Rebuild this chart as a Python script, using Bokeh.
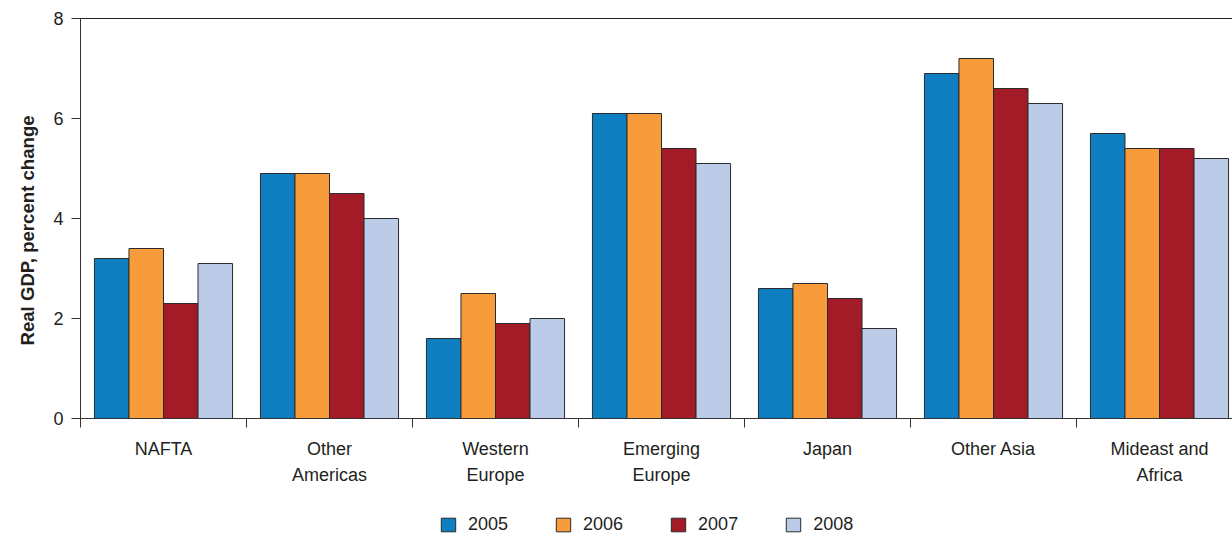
import numpy as np
from bokeh.plotting import figure
from bokeh.layouts import column
from bokeh.models import (Range1d, FixedTicker, LinearAxis, Legend, LegendItem,
                          ColumnDataSource, Title)
from bokeh.embed import file_html
from bokeh.resources import INLINE

# Real GDP growth by region, percent change
regions = ["NAFTA", "Other\nAmericas", "Western\nEurope", "Emerging\nEurope",
           "Japan", "Other Asia", "Mideast and\nAfrica"]
years = ["2005", "2006", "2007", "2008"]
gdp_2005 = [3.2, 4.9, 1.6, 6.1, 2.6, 6.9, 5.7]
gdp_2006 = [3.4, 4.9, 2.5, 6.1, 2.7, 7.2, 5.4]
gdp_2007 = [2.3, 4.5, 1.9, 5.4, 2.4, 6.6, 5.4]
gdp_2008 = [3.1, 4.0, 2.0, 5.1, 1.8, 6.3, 5.2]
y_ticks = [0, 2, 4, 6, 8]

series = [gdp_2005, gdp_2006, gdp_2007, gdp_2008]
colors = ["#0f7ec0", "#f89b3a", "#a31b26", "#bccbe8"]
EDGE = "#2b2b2b"

FONT = "Liberation Sans"
TEXT = "#231f20"
FS = "18px"

n = len(regions)
group_px = 166.0
frame_w = 1232 - 80
bar_w = 0.208
offsets = [-1.5 * bar_w, -0.5 * bar_w, 0.5 * bar_w, 1.5 * bar_w]

p = figure(width=1232, height=500, output_backend="svg", toolbar_location=None,
           x_range=Range1d(0, frame_w / group_px), y_range=Range1d(0, 8),
           min_border_left=80, min_border_right=0, min_border_top=18,
           min_border_bottom=82, outline_line_color=None,
           background_fill_color="white", border_fill_color="white")
p.xgrid.visible = False
p.ygrid.visible = False

centers = np.arange(n) + 0.5
for yr, vals, col, off in zip(years, series, colors, offsets):
    src = ColumnDataSource(dict(x=centers + off, top=vals))
    p.vbar(x="x", top="top", width=bar_w, bottom=0, source=src,
           fill_color=col, line_color=EDGE, line_width=1)

# x axis: region labels at group centres, tick marks on group boundaries
xa = p.xaxis[0]
xa.ticker = FixedTicker(ticks=list(centers), minor_ticks=list(range(n + 1)))
xa.major_label_overrides = {float(c): lab for c, lab in zip(centers, regions)}
xa.major_tick_line_color = None
xa.major_tick_out = 0
xa.major_tick_in = 0
xa.minor_tick_in = 0
xa.minor_tick_out = 9
xa.minor_tick_line_color = "#333333"
xa.axis_line_color = "#333333"
xa.major_label_text_font = FONT
xa.major_label_text_font_size = FS
xa.major_label_text_color = TEXT
xa.major_label_standoff = 11
xa.major_label_text_line_height = 1.3

ya = p.yaxis[0]
ya.ticker = FixedTicker(ticks=y_ticks)
ya.minor_tick_line_color = None
ya.major_tick_in = 0
ya.major_tick_out = 9
ya.major_tick_line_color = "#333333"
ya.axis_line_color = "#333333"
ya.major_label_text_font = FONT
ya.major_label_text_font_size = FS
ya.major_label_text_color = TEXT
ya.major_label_standoff = 8

ytitle = Title(text="Real GDP, percent change", align="left", offset=73,
               text_font=FONT, text_font_size="18.6px", text_font_style="bold",
               text_color=TEXT, standoff=26)
p.add_layout(ytitle, "left")

# top border line
top = LinearAxis(ticker=FixedTicker(ticks=[]), axis_line_color="#222222",
                 major_tick_line_color=None, minor_tick_line_color=None,
                 major_tick_out=0, major_tick_in=0,
                 major_label_text_font_size="0px")
p.add_layout(top, "above")

# legend strip below the chart (its frame lines up with the chart frame)
lg = figure(width=1232, height=35, output_backend="svg", toolbar_location=None,
            x_range=Range1d(0, 1), y_range=Range1d(0, 1),
            min_border=0, outline_line_color=None,
            background_fill_color="white", border_fill_color="white")
lg.axis.visible = False
lg.grid.visible = False
items = []
for yr, col in zip(years, colors):
    # swatch-only renderer: one row with no drawable position
    r = lg.vbar(x=[np.nan], bottom=[np.nan], top=[np.nan], width=0.01,
                fill_color=col, line_color=EDGE)
    items.append(LegendItem(label=yr, renderers=[r]))
legend = Legend(items=items, orientation="horizontal", location=(359, 0),
                glyph_width=18, glyph_height=17, label_standoff=11, spacing=46,
                label_text_font=FONT, label_text_font_size=FS,
                label_text_color=TEXT, border_line_color=None,
                background_fill_alpha=0, padding=0, margin=0)
lg.add_layout(legend, "center")

open("out.html", "w").write(file_html(column(p, lg, spacing=0), INLINE))
